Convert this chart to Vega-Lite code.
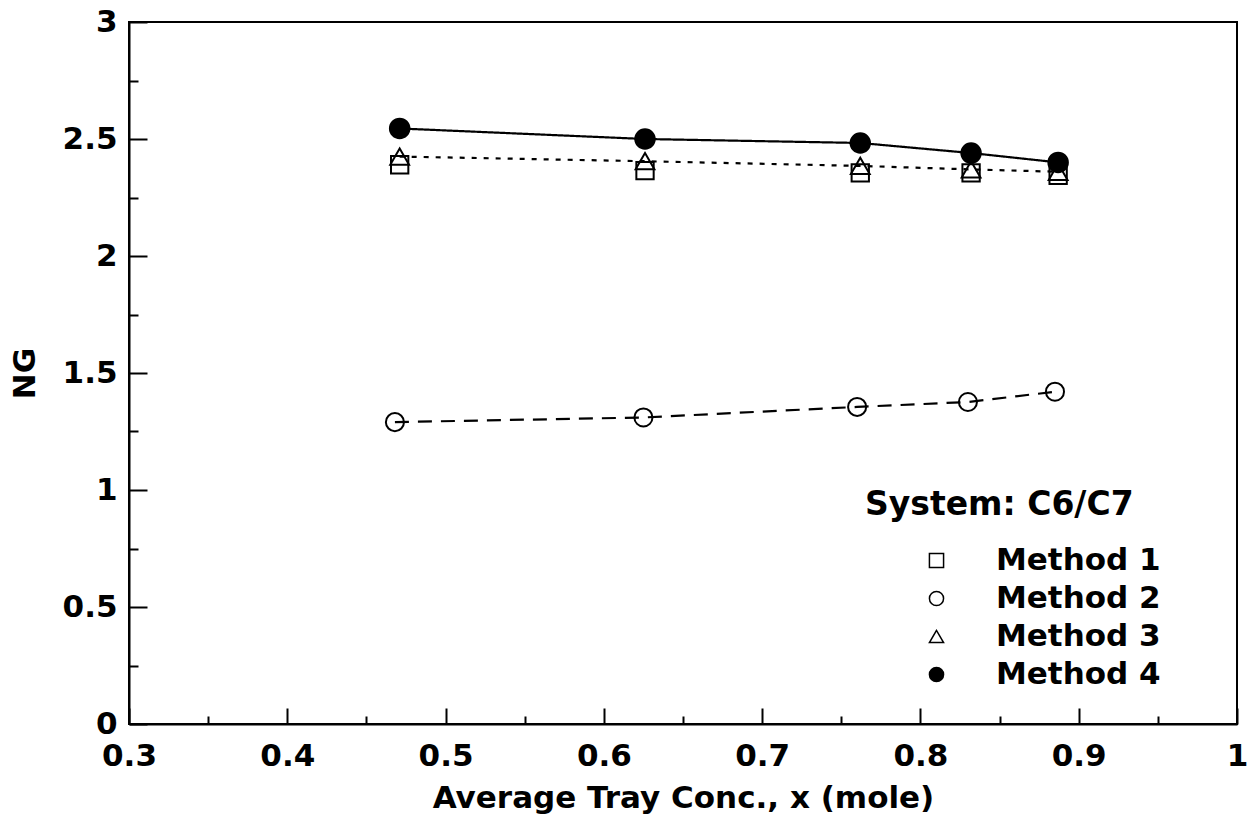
{
  "$schema": "https://vega.github.io/schema/vega-lite/v6.json",
  "width": 1108,
  "height": 702,
  "autosize": {"type": "none"},
  "padding": {"left": 129, "top": 22, "right": 10, "bottom": 100},
  "background": "white",
  "config": {
    "view": {"stroke": "black", "strokeWidth": 2},
    "font": "DejaVu Sans",
    "axis": {
      "domainColor": "black", "domainWidth": 2,
      "tickColor": "black", "tickWidth": 2,
      "labelFont": "DejaVu Sans", "labelFontWeight": "bold", "labelFontSize": 31, "labelColor": "black",
      "titleFont": "DejaVu Sans", "titleFontWeight": "bold", "titleFontSize": 31, "titleColor": "black",
      "grid": false, "labelFlush": false, "labelOverlap": false
    },
    "legend": {
      "labelFont": "DejaVu Sans", "labelFontWeight": "bold", "labelFontSize": 31, "labelColor": "black",
      "labelLimit": 400, "symbolStrokeWidth": 1.5, "symbolSize": 200
    }
  },
  "data": {
    "values": [
      {"method": "Method 1", "x": 0.471, "y": 2.39},
      {"method": "Method 1", "x": 0.626, "y": 2.365},
      {"method": "Method 1", "x": 0.762, "y": 2.355},
      {"method": "Method 1", "x": 0.832, "y": 2.355},
      {"method": "Method 1", "x": 0.887, "y": 2.345},
      {"method": "Method 2", "x": 0.468, "y": 1.29},
      {"method": "Method 2", "x": 0.625, "y": 1.31},
      {"method": "Method 2", "x": 0.760, "y": 1.355},
      {"method": "Method 2", "x": 0.830, "y": 1.376},
      {"method": "Method 2", "x": 0.885, "y": 1.42},
      {"method": "Method 3", "x": 0.471, "y": 2.425},
      {"method": "Method 3", "x": 0.626, "y": 2.405},
      {"method": "Method 3", "x": 0.762, "y": 2.385},
      {"method": "Method 3", "x": 0.832, "y": 2.37},
      {"method": "Method 3", "x": 0.887, "y": 2.36},
      {"method": "Method 4", "x": 0.471, "y": 2.545},
      {"method": "Method 4", "x": 0.626, "y": 2.5},
      {"method": "Method 4", "x": 0.762, "y": 2.483},
      {"method": "Method 4", "x": 0.832, "y": 2.44},
      {"method": "Method 4", "x": 0.887, "y": 2.4}
    ]
  },
  "encoding": {
    "x": {
      "field": "x", "type": "quantitative",
      "scale": {"domain": [0.3, 1], "nice": false, "zero": false},
      "axis": {
        "title": "Average Tray Conc., x (mole)",
        "values": [0.3, 0.35, 0.4, 0.45, 0.5, 0.55, 0.6, 0.65, 0.7, 0.75, 0.8, 0.85, 0.9, 0.95, 1],
        "format": "~g",
        "labelExpr": "abs(datum.value*10 - round(datum.value*10)) < 0.001 ? datum.label : ''",
        "tickSize": {"condition": {"test": "abs(datum.value*10 - round(datum.value*10)) < 0.001", "value": -16}, "value": -8},
        "labelPadding": 33,
        "titlePadding": 4
      }
    },
    "y": {
      "field": "y", "type": "quantitative",
      "scale": {"domain": [0, 3], "nice": false, "zero": false},
      "axis": {
        "title": "NG",
        "values": [0, 0.25, 0.5, 0.75, 1, 1.25, 1.5, 1.75, 2, 2.25, 2.5, 2.75, 3],
        "format": "~g",
        "labelExpr": "abs(datum.value*2 - round(datum.value*2)) < 0.001 ? datum.label : ''",
        "tickSize": {"condition": {"test": "abs(datum.value*2 - round(datum.value*2)) < 0.001", "value": -18}, "value": -9},
        "labelPadding": 30,
        "titleX": -88
      }
    }
  },
  "layer": [
    {
      "transform": [{"filter": "datum.method != 'Method 1'"}],
      "mark": {"type": "line", "color": "black", "strokeWidth": 2.2},
      "encoding": {
        "detail": {"field": "method"},
        "strokeDash": {
          "field": "method", "type": "nominal",
          "scale": {"domain": ["Method 2", "Method 3", "Method 4"], "range": [[14, 9], [5, 7], [1, 0]]},
          "legend": null
        }
      }
    },
    {
      "mark": {"type": "point", "filled": false, "strokeWidth": 2, "opacity": 1},
      "encoding": {
        "shape": {
          "field": "method", "type": "nominal",
          "scale": {"domain": ["Method 1", "Method 2", "Method 3", "Method 4"], "range": ["square", "circle", "triangle-up", "circle"]},
          "legend": {
            "orient": "none", "legendX": 792, "legendY": 523, "title": null,
            "padding": 0, "labelOffset": 44, "rowPadding": 6
          }
        },
        "fill": {
          "field": "method", "type": "nominal",
          "scale": {"domain": ["Method 1", "Method 2", "Method 3", "Method 4"], "range": ["transparent", "transparent", "transparent", "black"]},
          "legend": {
            "orient": "none", "legendX": 792, "legendY": 523, "title": null,
            "padding": 0, "labelOffset": 44, "rowPadding": 6
          }
        },
        "stroke": {
          "field": "method", "type": "nominal",
          "scale": {"domain": ["Method 1", "Method 2", "Method 3", "Method 4"], "range": ["black", "black", "black", "black"]},
          "legend": {
            "orient": "none", "legendX": 792, "legendY": 523, "title": null,
            "padding": 0, "labelOffset": 44, "rowPadding": 6
          }
        },
        "size": {
          "field": "method", "type": "nominal",
          "scale": {"domain": ["Method 4", "Method 3", "Method 2", "Method 1"], "range": [380, 300, 260, 300]},
          "legend": null
        }
      }
    },
    {
      "data": {"values": [{"label": "System: C6/C7", "x": 0.765, "y": 0.936}]},
      "mark": {"type": "text", "align": "left", "baseline": "middle", "font": "DejaVu Sans", "fontWeight": "bold", "fontSize": 33, "color": "black"},
      "encoding": {
        "text": {"field": "label"},
        "x": {"field": "x", "type": "quantitative"},
        "y": {"field": "y", "type": "quantitative"}
      }
    }
  ]
}
